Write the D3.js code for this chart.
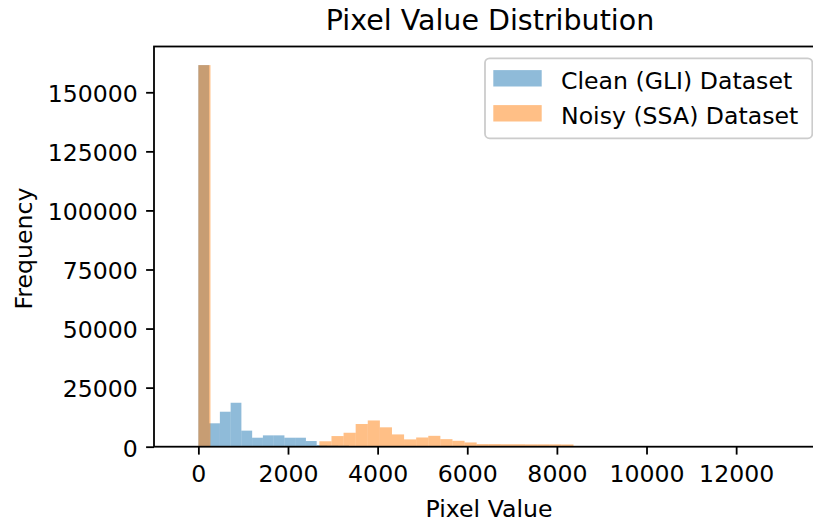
<!DOCTYPE html>
<html>
<head>
<meta charset="utf-8">
<script src="https://cdn.jsdelivr.net/npm/d3@7"></script>
<style>
  html, body { margin: 0; padding: 0; background: #fff; }
  svg text { font-family: "DejaVu Sans", sans-serif; fill: #000; }
</style>
</head>
<body>
<svg id="chart" width="813" height="523"></svg>
<script>
// ---- data ----
const title = "Pixel Value Distribution";
const xLabel = "Pixel Value";
const yLabel = "Frequency";
const seriesNames = ["Clean (GLI) Dataset", "Noisy (SSA) Dataset"];

// Clean (GLI): histogram bins of width 240 starting at 0
const cleanBinStart = 0;
const cleanBinWidth = 240;
const cleanCounts = [161500, 9900, 14800, 18600, 6800, 3800, 4800, 4800, 3800, 3800,
                     2400, 700, 600, 500];

// Noisy (SSA): histogram bins of width 270 starting at 0
const noisyBinStart = 0;
const noisyBinWidth = 270;
const noisyCounts = [161500, 0, 0, 0, 0, 0, 0, 0, 0, 0,
                     2300, 4500, 5900, 9600, 11100, 8200, 5200, 3100, 3900, 4600,
                     3200, 2500, 1800, 1100, 1100, 1050, 1050, 1000, 1000, 1000, 950];

const xTicks = [0, 2000, 4000, 6000, 8000, 10000, 12000];
const yTicks = [0, 25000, 50000, 75000, 100000, 125000, 150000];
const xDomain = [-990, 14005];
const yDomain = [0, 169380];

// ---- layout ----
const plot = { left: 154, right: 826, top: 46.5, bottom: 446.7 };
const colors = ["#1f77b4", "#ff7f0e"];
const alpha = 0.5;
const fs = 23.6;

const svg = d3.select("#chart");
const x = d3.scaleLinear().domain(xDomain).range([plot.left, plot.right]);
const y = d3.scaleLinear().domain(yDomain).range([plot.bottom, plot.top]);

function binsOf(counts, start, width) {
  return counts.map((c, i) => ({ x0: start + i * width, x1: start + (i + 1) * width, n: c }));
}
const series = [
  binsOf(cleanCounts, cleanBinStart, cleanBinWidth),
  binsOf(noisyCounts, noisyBinStart, noisyBinWidth)
];

series.forEach((bins, si) => {
  svg.append("g")
    .selectAll("rect")
    .data(bins.filter(d => d.n > 0))
    .join("rect")
    .attr("x", d => x(d.x0))
    .attr("width", d => x(d.x1) - x(d.x0))
    .attr("y", d => y(d.n))
    .attr("height", d => y(0) - y(d.n))
    .attr("fill", colors[si])
    .attr("fill-opacity", alpha);
});

// ---- axes ----
const tickLen = 7.9;
const xAxis = d3.axisBottom(x).tickValues(xTicks).tickFormat(d3.format("d"))
  .tickSize(tickLen).tickSizeOuter(0);
const gx = svg.append("g").attr("transform", `translate(0,${plot.bottom})`).call(xAxis);
gx.select(".domain").remove();
gx.selectAll(".tick line").attr("stroke", "#000").attr("stroke-width", 1.8);
gx.selectAll(".tick text")
  .attr("y", 482.5 - plot.bottom).attr("dy", null)
  .attr("font-size", fs).attr("font-family", "DejaVu Sans").attr("fill", "#000");

const yAxis = d3.axisLeft(y).tickValues(yTicks).tickFormat(d3.format("d"))
  .tickSize(tickLen).tickSizeOuter(0);
const gy = svg.append("g").attr("transform", `translate(${plot.left},0)`).call(yAxis);
gy.select(".domain").remove();
gy.selectAll(".tick line").attr("stroke", "#000").attr("stroke-width", 1.8);
gy.selectAll(".tick text")
  .attr("x", -16.2).attr("dy", null).attr("y", 9.3)
  .attr("font-size", fs).attr("font-family", "DejaVu Sans").attr("fill", "#000");

// spines
const sp = svg.append("g").attr("stroke", "#000").attr("stroke-width", 1.8).attr("fill", "none");
sp.append("rect")
  .attr("x", plot.left).attr("y", plot.top)
  .attr("width", plot.right - plot.left).attr("height", plot.bottom - plot.top);

// labels
svg.append("text").attr("x", (plot.left + plot.right) / 2).attr("y", 30)
  .attr("text-anchor", "middle").attr("font-size", 28.5).text(title);
svg.append("text").attr("x", (plot.left + plot.right) / 2 - 1).attr("y", 516.5)
  .attr("text-anchor", "middle").attr("font-size", fs).text(xLabel);
svg.append("text")
  .attr("transform", `translate(31.5,${(plot.top + plot.bottom) / 2 + 2}) rotate(-90)`)
  .attr("text-anchor", "middle").attr("font-size", fs).text(yLabel);

// legend
const lg = svg.append("g");
lg.append("rect").attr("x", 485).attr("y", 58.3).attr("width", 327.3).attr("height", 80)
  .attr("rx", 4.5).attr("ry", 4.5)
  .attr("fill", "#fff").attr("fill-opacity", 0.8)
  .attr("stroke", "#cccccc").attr("stroke-width", 1.8);
seriesNames.forEach((name, i) => {
  const cy = 78.3 + i * 35;
  lg.append("rect").attr("x", 493.3).attr("y", cy - 8.2).attr("width", 48.4).attr("height", 16.4)
    .attr("fill", colors[i]).attr("fill-opacity", alpha);
  lg.append("text").attr("x", 561).attr("y", 88.5 + i * 35)
    .attr("font-size", fs).text(name);
});
</script>
</body>
</html>
